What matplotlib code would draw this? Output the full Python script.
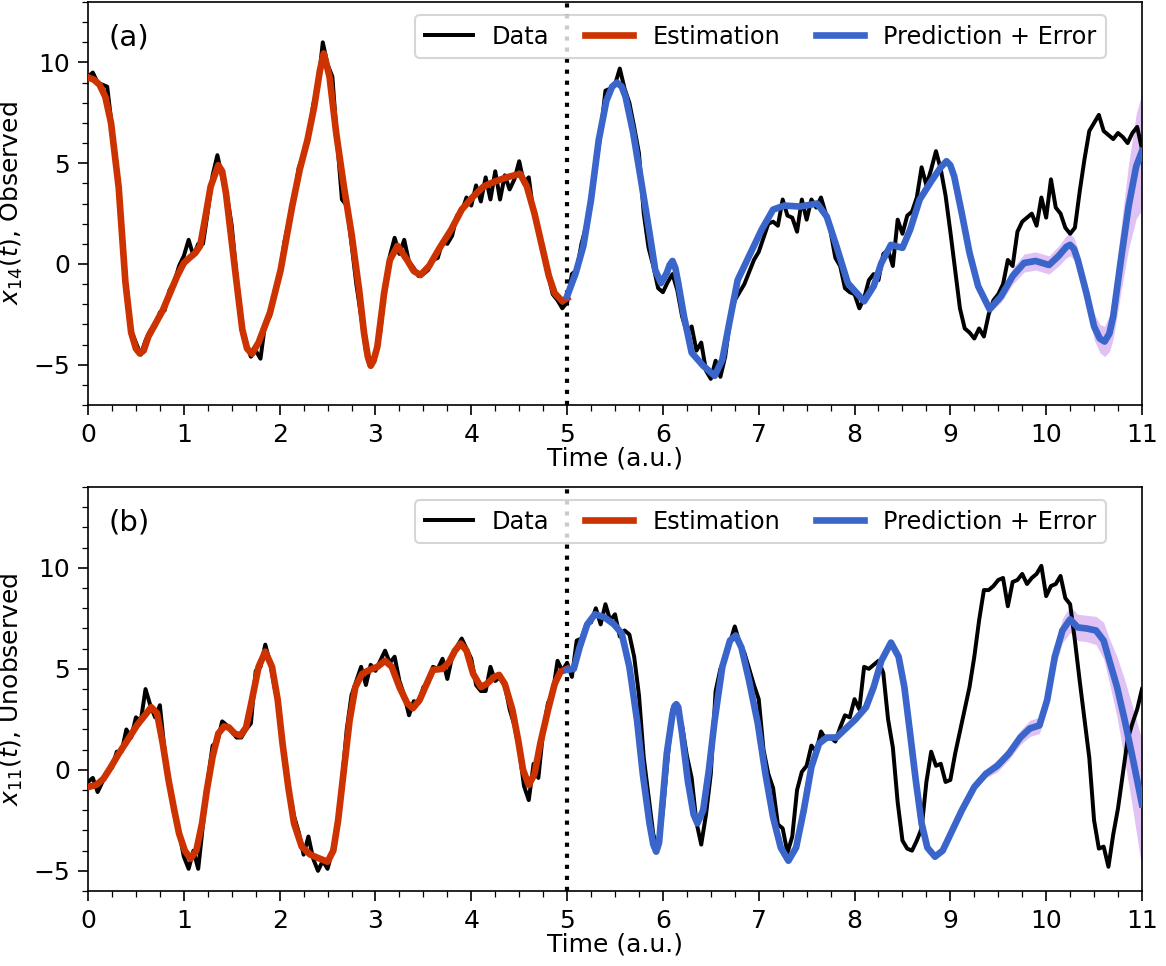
import numpy as np
import matplotlib
matplotlib.use("Agg")
import matplotlib.pyplot as plt
from matplotlib.ticker import MultipleLocator

# --- panel (a): x14, observed -------------------------------------------
t_data = np.linspace(0, 11, 221)  # sampling grid of the data, step 0.05

data_a = [
    9.3, 9.5, 9.0, 8.9, 8.8, 6.8, 4.6, 1.6, -1.3, -3.3, -3.9, -4.5, -3.8, -3.3, -3.1, -2.4, -2.3, -1.3, -0.9, -0.1,
    0.4, 1.2, 0.4, 1.0, 1.0, 2.6, 4.4, 5.4, 4.3, 3.4, 1.9, -0.6, -2.9, -4.0, -4.6, -4.3, -4.7, -2.9, -2.6, -1.3,
    -0.5, 1.1, 2.2, 3.3, 4.8, 5.4, 6.2, 7.9, 8.8, 11.0, 9.9, 9.3, 6.1, 3.2, 2.9, 1.0, -1.0, -2.6, -4.3, -5.0,
    -4.4, -3.4, -1.2, 0.4, 1.3, 0.5, 1.2, 0.1, -0.2, -0.6, -0.5, -0.3, 0.2, 0.3, 1.1, 1.0, 1.4, 2.4, 2.6, 3.3,
    2.9, 3.9, 3.1, 4.3, 3.2, 4.6, 3.2, 4.4, 3.7, 4.2, 5.1, 4.0, 4.3, 2.5, 1.6, 0.8, -0.5, -1.5, -1.8, -2.2,
    -1.9, -0.5, -0.3, 1.0, 1.9, 3.0, 4.8, 6.5, 8.6, 8.7, 8.9, 9.7, 8.7, 8.0, 6.8, 5.5, 2.5, 0.8, -0.1, -1.2,
    -1.4, -0.9, -0.5, -1.3, -2.6, -3.4, -3.1, -4.3, -3.9, -5.3, -5.7, -4.8, -5.6, -4.6, -2.8, -1.8, -1.4, -1.0, -0.4, 0.2,
    0.6, 1.3, 2.0, 2.1, 1.9, 3.2, 2.4, 2.3, 1.6, 3.2, 2.2, 3.2, 2.8, 3.3, 2.5, 1.6, 0.3, -0.1, -1.2, -1.4,
    -1.5, -2.2, -1.7, -0.8, -0.5, -0.8, 0.5, 0.7, -0.1, 2.2, 1.5, 2.4, 2.6, 3.3, 4.8, 3.9, 4.7, 5.6, 4.7, 3.4,
    1.6, -0.3, -2.2, -3.2, -3.4, -3.7, -3.2, -3.6, -2.5, -1.8, -1.5, -1.0, 0.2, -0.1, 1.6, 2.1, 2.3, 2.5, 1.9, 3.3,
    2.3, 4.2, 2.8, 2.5, 1.8, 1.5, 1.8, 3.6, 5.2, 6.6, 7.0, 7.4, 6.6, 6.4, 6.2, 6.5, 6.3, 6.0, 6.5, 6.8, 5.7,
]

est_t_a = [0.00, 0.06, 0.12, 0.18, 0.24, 0.32, 0.39, 0.45, 0.50, 0.54, 0.58, 0.63, 0.78, 0.93, 1.00,
           1.07, 1.12, 1.17, 1.22, 1.28, 1.36, 1.40, 1.44, 1.49, 1.55, 1.61, 1.66, 1.71, 1.78, 1.90,
           2.01, 2.13, 2.21, 2.29, 2.36, 2.42, 2.46, 2.52, 2.59, 2.67, 2.75, 2.83, 2.88, 2.92, 2.95,
           2.98, 3.02, 3.09, 3.15, 3.23, 3.33, 3.40, 3.47, 3.56, 3.67, 3.79, 3.90, 4.02, 4.13, 4.25,
           4.37, 4.45, 4.51, 4.58, 4.66, 4.73, 4.81, 4.87, 4.95, 5.00]
est_a = [9.26, 9.15, 8.9, 8.3, 7.0, 3.8, -0.9, -3.4, -4.2, -4.44, -4.3, -3.6, -2.3, -0.6, 0.05,
         0.35, 0.55, 0.9, 2.2, 3.85, 4.9, 4.6, 3.5, 1.5, -0.9, -3.25, -4.2, -4.45, -3.9, -2.4,
         -0.3, 2.85, 4.7, 6.15, 7.8, 9.6, 10.45, 9.3, 6.5, 3.85, 1.5, -1.3, -3.4, -4.6, -5.05,
         -4.8, -4.1, -1.45, 0.2, 0.9, 0.2, -0.35, -0.55, -0.1, 0.8, 1.7, 2.7, 3.35, 3.85, 4.1,
         4.3, 4.4, 4.47, 3.85, 2.5, 1.05, -0.6, -1.45, -1.85, -1.7]

pred_t_a = [5.00, 5.09, 5.17, 5.25, 5.33, 5.41, 5.47, 5.52, 5.57, 5.61, 5.69, 5.77, 5.86, 5.92, 5.98,
            6.04, 6.07, 6.10, 6.13, 6.16, 6.22, 6.30, 6.42, 6.54, 6.62, 6.70, 6.78, 6.90, 7.03, 7.15,
            7.27, 7.43, 7.61, 7.71, 7.81, 7.93, 8.10, 8.20, 8.28, 8.38, 8.50, 8.58, 8.68, 8.80, 8.90,
            8.96, 9.00, 9.04, 9.12, 9.20, 9.29, 9.41, 9.53, 9.65, 9.77, 9.89, 10.03, 10.13, 10.21, 10.25,
            10.29, 10.33, 10.42, 10.50, 10.56, 10.61, 10.66, 10.70, 10.78, 10.86, 10.94, 11.00]
pred_a = [-1.6, -0.45, 0.9, 3.2, 6.15, 8.1, 8.8, 9.0, 8.8, 8.3, 6.5, 4.2, 1.55, -0.3, -0.95,
          -0.45, -0.05, 0.15, -0.2, -0.95, -2.6, -4.4, -5.05, -5.55, -4.75, -2.75, -0.8, 0.4, 1.7, 2.7,
          2.9, 2.85, 3.0, 2.35, 0.9, -0.95, -1.85, -1.1, 0.05, 0.95, 0.8, 1.7, 3.2, 4.1, 4.8,
          5.1, 4.9, 4.35, 2.5, 0.55, -1.1, -2.25, -1.6, -0.6, 0.05, 0.15, -0.05, 0.4, 0.85, 0.95,
          0.75, 0.2, -1.45, -3.1, -3.7, -3.85, -3.45, -2.6, 0.2, 2.85, 4.85, 5.6]
err_a = [0, 0, 0, 0, 0, 0, 0, 0, 0, 0, 0, 0, 0, 0, 0,
         0, 0, 0, 0, 0, 0, 0, 0, 0, 0, 0, 0, 0, 0, 0,
         0, 0, 0, 0, 0, 0, 0, 0, 0, 0, 0, 0, 0, 0, 0,
         0, 0, 0, 0, 0, 0.03, 0.15, 0.3, 0.4, 0.45, 0.45, 0.45, 0.5, 0.55, 0.55,
         0.55, 0.55, 0.6, 0.65, 0.7, 0.75, 0.9, 1.1, 1.6, 2.1, 2.6, 2.9]

# --- panel (b): x11, unobserved -----------------------------------------
data_b = [
    -0.6, -0.4, -1.1, -0.6, -0.1, 0.1, 0.9, 0.9, 2.0, 1.6, 2.6, 2.4, 4.0, 3.2, 2.6, 3.2, 0.9, -0.8, -2.2, -3.1,
    -4.3, -4.9, -4.0, -4.9, -2.7, -0.5, 1.2, 1.4, 2.4, 2.2, 1.9, 1.6, 1.6, 2.0, 2.3, 4.9, 5.1, 6.2, 5.3, 4.0,
    2.9, 0.3, -1.0, -2.3, -3.1, -4.2, -3.3, -4.4, -5.0, -4.5, -4.9, -4.0, -2.7, -0.6, 2.0, 3.7, 4.4, 5.1, 4.2, 5.2,
    4.9, 5.4, 5.9, 5.3, 5.6, 4.4, 3.7, 2.7, 3.4, 3.3, 4.1, 4.3, 5.1, 5.0, 5.5, 4.5, 5.6, 6.1, 6.5, 6.0,
    5.5, 4.2, 3.9, 3.9, 5.1, 4.4, 4.6, 4.2, 3.0, 2.2, 1.0, -0.8, -1.5, 0.3, -0.4, 1.9, 3.3, 3.8, 5.4, 4.9,
    5.3, 4.6, 6.4, 6.5, 7.2, 7.3, 8.0, 7.2, 8.2, 7.4, 7.7, 6.6, 6.9, 6.7, 5.6, 3.7, 0.6, -1.3, -3.2, -3.9,
    -2.0, 0.6, 3.0, 3.2, 2.2, 0.7, -0.4, -2.6, -3.7, -2.2, -0.2, 3.9, 5.0, 5.6, 6.3, 7.1, 6.3, 5.8, 5.0, 4.2,
    3.5, 1.0, -0.2, -0.9, -2.7, -2.9, -4.1, -3.3, -1.0, -0.1, 0.2, 1.2, 0.9, 1.9, 1.5, 1.6, 1.4, 2.1, 2.7, 2.6,
    3.5, 3.0, 5.1, 5.0, 5.2, 5.4, 4.8, 2.5, 1.1, -1.6, -3.5, -3.9, -4.0, -3.5, -2.9, -0.6, 0.9, 0.2, 0.3, -0.6,
    -0.5, 0.8, 1.9, 3.0, 4.1, 5.6, 7.4, 8.9, 8.9, 9.1, 9.4, 9.5, 8.1, 9.3, 9.4, 9.7, 9.2, 9.5, 9.7, 10.1,
    8.6, 9.1, 9.2, 9.6, 8.5, 8.2, 6.4, 4.4, 2.5, 0.6, -2.5, -3.9, -3.8, -4.8, -3.2, -1.9, -0.2, 1.5, 2.3, 3.0, 4.0,
]

est_t_b = [0.00, 0.085, 0.16, 0.24, 0.32, 0.41, 0.51, 0.61, 0.66, 0.72, 0.78, 0.84, 0.90, 0.95, 1.01,
           1.07, 1.13, 1.19, 1.24, 1.30, 1.36, 1.42, 1.47, 1.53, 1.59, 1.65, 1.71, 1.78, 1.85, 1.92,
           1.98, 2.03, 2.09, 2.15, 2.23, 2.32, 2.42, 2.50, 2.56, 2.61, 2.67, 2.73, 2.79, 2.86, 2.94,
           3.02, 3.10, 3.17, 3.25, 3.33, 3.39, 3.46, 3.52, 3.60, 3.70, 3.77, 3.83, 3.89, 3.95, 4.02,
           4.10, 4.16, 4.24, 4.29, 4.35, 4.43, 4.49, 4.54, 4.60, 4.66, 4.72, 4.80, 4.87, 4.93, 5.00]
est_b = [-0.85, -0.75, -0.45, 0.15, 0.8, 1.45, 2.2, 2.8, 3.1, 2.8, 1.3, -0.5, -2.0, -3.15, -4.0,
         -4.4, -4.0, -2.65, -1.0, 0.65, 1.8, 2.15, 2.1, 1.8, 1.7, 2.1, 3.45, 5.1, 5.85, 5.1,
         3.45, 1.3, -0.85, -2.65, -3.8, -4.2, -4.4, -4.55, -4.0, -2.5, 0.0, 2.45, 4.1, 4.75, 4.95,
         5.1, 5.4, 5.1, 4.1, 3.3, 3.05, 3.45, 4.1, 4.95, 5.0, 5.35, 5.9, 6.25, 5.9, 4.75,
         4.1, 4.25, 4.6, 4.7, 4.25, 2.95, 1.45, 0.0, -0.75, -0.2, 1.3, 2.95, 4.25, 4.85, 5.0]

pred_t_b = [5.00, 5.07, 5.13, 5.21, 5.29, 5.39, 5.49, 5.57, 5.65, 5.73, 5.79, 5.86, 5.90, 5.93, 5.96,
            5.98, 6.04, 6.10, 6.12, 6.14, 6.16, 6.20, 6.26, 6.32, 6.36, 6.42, 6.48, 6.54, 6.62, 6.70,
            6.76, 6.82, 6.90, 6.99, 7.07, 7.15, 7.23, 7.31, 7.39, 7.47, 7.55, 7.63, 7.71, 7.81, 7.91,
            8.01, 8.12, 8.20, 8.28, 8.38, 8.46, 8.52, 8.58, 8.64, 8.70, 8.76, 8.84, 8.92, 9.00, 9.12,
            9.25, 9.37, 9.49, 9.61, 9.73, 9.83, 9.93, 10.01, 10.09, 10.17, 10.25, 10.33, 10.42, 10.52, 10.60,
            10.66, 10.74, 10.82, 10.90, 11.00]
pred_b = [4.95, 5.0, 6.05, 7.2, 7.7, 7.55, 7.2, 6.75, 5.1, 2.45, -0.2, -2.65, -3.7, -4.05, -3.6,
          -2.5, 0.8, 2.75, 3.15, 3.25, 3.1, 1.8, -0.55, -2.2, -2.65, -2.0, 0.0, 2.45, 5.1, 6.4,
          6.65, 6.05, 4.4, 2.3, -0.2, -2.35, -3.85, -4.5, -3.85, -2.0, 0.15, 1.3, 1.6, 1.6, 2.05,
          2.5, 3.1, 4.1, 5.4, 6.3, 5.6, 4.1, 1.8, -0.55, -2.65, -3.85, -4.3, -4.0, -3.2, -2.0,
          -0.85, -0.2, 0.2, 0.8, 1.6, 2.05, 2.2, 3.45, 5.6, 6.9, 7.45, 7.05, 7.0, 6.9, 6.4,
          5.4, 4.1, 2.45, 0.65, -1.7]
err_b = [0, 0, 0, 0, 0, 0, 0, 0, 0, 0, 0, 0, 0, 0, 0,
         0, 0, 0, 0, 0, 0, 0, 0, 0, 0, 0, 0, 0, 0, 0,
         0, 0, 0, 0, 0, 0, 0, 0, 0, 0, 0, 0, 0, 0, 0,
         0, 0, 0, 0, 0, 0, 0, 0, 0, 0, 0, 0, 0, 0, 0.03,
         0.15, 0.2, 0.3, 0.3, 0.35, 0.4, 0.4, 0.45, 0.55, 0.6, 0.65, 0.65, 0.65, 0.7, 0.9,
         1.1, 1.5, 2.0, 2.5, 3.2]

panels = [
    ("(a)", r"$x_{14}(t)$, Observed", data_a, est_t_a, est_a, pred_t_a, pred_a, err_a, (-7, 13)),
    ("(b)", r"$x_{11}(t)$, Unobserved", data_b, est_t_b, est_b, pred_t_b, pred_b, err_b, (-6, 14)),
]

plt.rcParams["font.size"] = 12

fig = plt.figure(figsize=(1166 / 150, 966 / 150), dpi=150)
boxes = [[0.0755, 0.5807, 0.9039, 0.4172], [0.0755, 0.0776, 0.9039, 0.4182]]

for box, (tag, ylab, data, et, ev, pt, pv, pe, ylim) in zip(boxes, panels):
    ax = fig.add_axes(box)
    pt = np.array(pt)
    pv = np.array(pv)
    pe = np.array(pe)
    band = pe > 0
    ax.fill_between(pt[band], (pv - pe)[band], (pv + pe)[band],
                    color="#e0c2f4", lw=0, zorder=1)
    ax.plot(t_data, data, color="black", lw=1.9, label="Data", zorder=3)
    ax.plot(et, ev, color="#cc3300", lw=3.2, label="Estimation", zorder=4)
    ax.plot(pt, pv, color="#3a66cc", lw=3.2, label="Prediction + Error", zorder=4)
    ax.axvline(5, color="black", ls=":", lw=2.0, zorder=2)

    ax.set_xlim(0, 11)
    ax.set_ylim(*ylim)
    ax.xaxis.set_major_locator(MultipleLocator(1))
    ax.xaxis.set_minor_locator(MultipleLocator(0.25))
    ax.yaxis.set_major_locator(MultipleLocator(5))
    ax.yaxis.set_minor_locator(MultipleLocator(1))
    ax.tick_params(which="major", length=5)
    ax.tick_params(which="minor", length=3)
    ax.set_xlabel("Time (a.u.)", labelpad=0)
    ax.set_ylabel(ylab)
    ax.text(0.019, 0.913, tag, transform=ax.transAxes, fontsize=14, va="center")
    ax.legend(loc="upper right", bbox_to_anchor=(0.966, 0.968), borderaxespad=0,
              ncol=3, fontsize=11.5, columnspacing=1.5)

fig.savefig("out.png", dpi=150)
